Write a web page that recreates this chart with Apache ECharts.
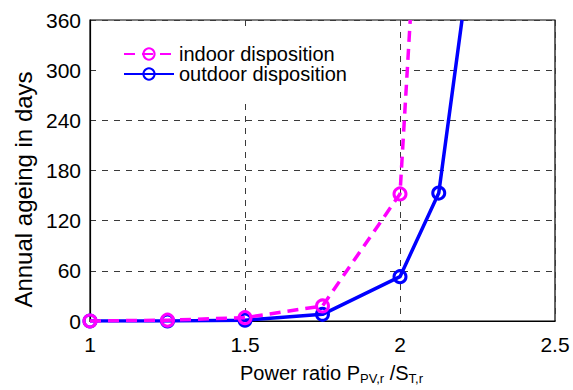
<!DOCTYPE html>
<html>
<head>
<meta charset="utf-8">
<script src="https://cdn.jsdelivr.net/npm/echarts@6/dist/echarts.min.js"></script>
<style>
  html, body { margin: 0; padding: 0; background: #fff; }
  #chart { width: 573px; height: 390px; }
</style>
</head>
<body>
<div id="chart"></div>
<script>
// Power ratio values (x) and annual ageing in days for each disposition.
// The last value of each list sits at the top of the axis (no marker there).
const ratioIndoor = [1, 1.25, 1.5, 1.75, 2, 2.033];
const ageingIndoor = [0, 1, 4, 18, 152, 360];
const ratioOutdoor = [1, 1.25, 1.5, 1.75, 2, 2.125, 2.2];
const ageingOutdoor = [0, 0, 1, 8, 53, 153, 360];
const seriesNames = ['indoor disposition', 'outdoor disposition'];
const xTicks = [1, 1.5, 2, 2.5];
const yTicks = [0, 60, 120, 180, 240, 300, 360];

const FONT = '"Liberation Sans", Arial, sans-serif';

// Build [x, y] items; the trailing point gets no marker
function points(xs, ys) {
  return xs.map((x, i) => {
    const item = { value: [x, ys[i]] };
    if (i === xs.length - 1) item.symbol = 'none';
    return item;
  });
}

const chart = echarts.init(document.getElementById('chart'), null, { renderer: 'svg' });

const gridDash = { color: '#3a3a3a', type: [6, 6], width: 1 };

chart.setOption({
  animation: false,
  backgroundColor: '#fff',
  grid: {
    left: 90, right: 18, top: 20, bottom: 69,
    show: true, borderColor: '#000', borderWidth: 1.2, backgroundColor: '#fff'
  },
  legend: {
    data: seriesNames,
    orient: 'vertical',
    left: 100, top: 28,
    padding: [16, 52, 14, 23],
    itemGap: 0,
    itemWidth: 50, itemHeight: 14,
    backgroundColor: '#fff',
    textStyle: { fontFamily: FONT, fontSize: 20, color: '#000', padding: [0, 0, 0, 0] }
  },
  xAxis: {
    type: 'value',
    min: xTicks[0], max: xTicks[xTicks.length - 1], interval: 0.5,
    axisLine: { show: true, onZero: false, lineStyle: { color: '#000', width: 1.2 } },
    axisTick: { show: false },
    splitLine: { show: true, lineStyle: gridDash },
    axisLabel: {
      fontFamily: FONT, fontSize: 21, color: '#000', margin: 13,
      formatter: v => String(v)
    },
    name: 'Power ratio P{sub|PV,r} /S{sub|T,r}',
    nameLocation: 'middle',
    nameGap: 40,
    nameTextStyle: {
      fontFamily: FONT, fontSize: 20, color: '#000',
      padding: [0, 0, 0, 18],
      rich: {
        sub: { fontFamily: FONT, fontSize: 13, color: '#000', padding: [11, 0, 0, 0] }
      }
    }
  },
  yAxis: {
    type: 'value',
    min: yTicks[0], max: yTicks[yTicks.length - 1], interval: 60,
    axisLine: { show: true, lineStyle: { color: '#000', width: 1.2 } },
    axisTick: { show: false },
    splitLine: { show: true, lineStyle: gridDash },
    axisLabel: { fontFamily: FONT, fontSize: 21, color: '#000', margin: 9 },
    name: 'Annual ageing in days',
    nameLocation: 'middle',
    nameGap: 36,
    nameTextStyle: { fontFamily: FONT, fontSize: 24, color: '#000', padding: [0, 38, 0, 0] }
  },
  series: [
    {
      name: seriesNames[1],
      type: 'line',
      data: points(ratioOutdoor, ageingOutdoor),
      clip: true,
      symbol: 'circle', symbolSize: 12, showSymbol: true,
      itemStyle: { color: 'transparent', borderColor: '#0000ff', borderWidth: 3 },
      lineStyle: { color: '#0000ff', width: 3.5 },
      z: 2
    },
    {
      name: seriesNames[0],
      type: 'line',
      data: points(ratioIndoor, ageingIndoor),
      clip: true,
      symbol: 'circle', symbolSize: 12, showSymbol: true,
      itemStyle: { color: 'transparent', borderColor: '#ff00ff', borderWidth: 3 },
      lineStyle: { color: '#ff00ff', width: 3.5, type: [11, 7] },
      z: 3
    }
  ]
});
</script>
</body>
</html>
